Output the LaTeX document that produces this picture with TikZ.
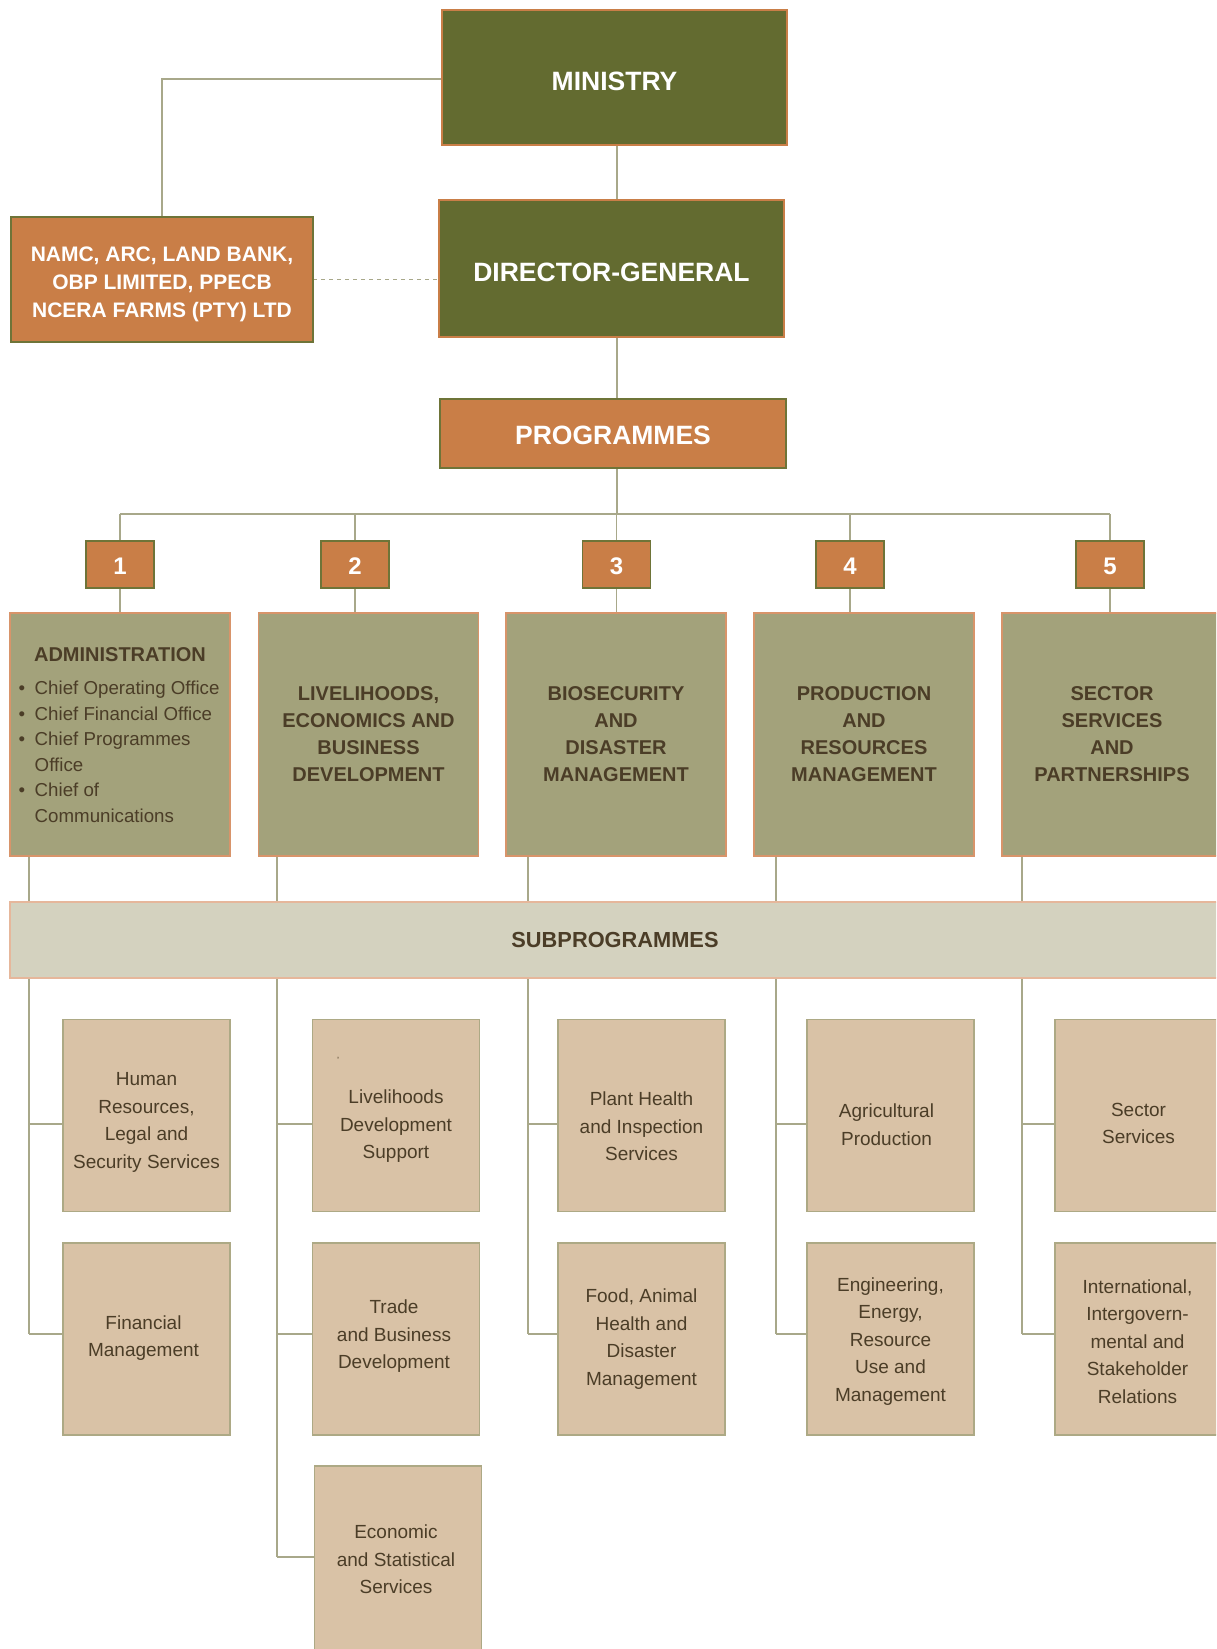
\documentclass[tikz,border=0pt]{standalone}
\usepackage{fontspec}
\setmainfont{Liberation Sans}
\usetikzlibrary{backgrounds}
\definecolor{olv}{HTML}{636B30}
\definecolor{olvb}{HTML}{6E7438}
\definecolor{org}{HTML}{C97E47}
\definecolor{pfill}{HTML}{A3A27B}
\definecolor{pbord}{HTML}{D8946A}
\definecolor{barfill}{HTML}{D4D2BF}
\definecolor{barbord}{HTML}{E6B79B}
\definecolor{sfill}{HTML}{D9C2A6}
\definecolor{sbord}{HTML}{ADA985}
\definecolor{lin}{HTML}{A8A88A}
\definecolor{tbrown}{HTML}{4B3D27}
\begin{document}
\begin{tikzpicture}[x=1pt,y=-1pt,
  box/.style={draw, line width=1.5pt, inner sep=0pt, outer sep=0pt, align=center},
  topbox/.style={box, fill=olv, draw=org, minimum width=345pt},
  bigtxt/.style={inner sep=0pt, text=white, font=\bfseries\fontsize{26.5}{32}\selectfont},
  orgbox/.style={box, fill=org, draw=olvb, text=white},
  numbox/.style={orgbox, minimum width=68pt, minimum height=47pt},
  numtxt/.style={inner sep=0pt, text=white, font=\bfseries\fontsize{24}{28}\selectfont},
  progbox/.style={box, fill=pfill, draw=pbord, text=tbrown, minimum width=220pt, minimum height=243pt,
    font=\bfseries\fontsize{20}{27}\selectfont},
  subbox/.style={box, fill=sfill, draw=sbord, minimum width=167pt, minimum height=192pt},
  subtxt/.style={inner sep=0pt, align=center, text=tbrown, font=\fontsize{19}{27.5}\selectfont},
  conn/.style={draw=lin, line width=1.3pt}
]
\useasboundingbox (0,0) rectangle (1216,1649);
\clip (0,0) rectangle (1216,1649);

% top
\node[topbox, minimum height=135pt] (ministry) at (614.5,77.5) {};
\node[bigtxt] (ministryt) at ([yshift=-4pt]ministry.center) {MINISTRY};
\node[topbox, minimum height=137pt] (dg) at (611.5,268.5) {};
\node[bigtxt] (dgt) at ([yshift=-3.5pt]dg.center) {DIRECTOR-GENERAL};
\node[orgbox, minimum width=302pt, minimum height=125pt] (namc) at (162,279.5) {};
\node[inner sep=0pt, align=center, text=white, font=\bfseries\fontsize{21}{28}\selectfont] (namct)
  at ([yshift=-5pt]namc.center) {NAMC, ARC, LAND BANK,\\OBP LIMITED, PPECB\\NCERA FARMS (PTY) LTD};
\node[orgbox, minimum width=346pt, minimum height=69pt] (prog) at (613,433.5) {};
\node[bigtxt] (progt) at ([yshift=-2pt]prog.center) {PROGRAMMES};

% numbers
\node[numbox] (n1) at (120,564.5) {};
\node[numbox] (n2) at (355,564.5) {};
\node[numbox] (n3) at (616.5,564.5) {};
\node[numbox] (n4) at (850,564.5) {};
\node[numbox] (n5) at (1110,564.5) {};
\foreach \k in {1,...,5}{
  \node[numtxt] (nt\k) at ([yshift=-2pt]n\k.center) {\k};
}

% programme boxes
\node[progbox] (p1) at (120,734.5) {};
\node[inner sep=0pt, text=tbrown, font=\bfseries\fontsize{20}{27}\selectfont] (adm) at (120,655) {ADMINISTRATION};
\node[inner sep=0pt, anchor=base west, text=tbrown, font=\fontsize{18.7}{25.5}\selectfont] (admlist) at (18.5,694.5)
  {\begin{tabular}[t]{@{}l@{\hspace{9.5pt}}l@{}}
   \textbullet & Chief Operating Office\\
   \textbullet & Chief Financial Office\\
   \textbullet & Chief Programmes\\
               & Office\\
   \textbullet & Chief of\\
               & Communications
   \end{tabular}};
\node[progbox] (p2) at (368.5,734.5) {LIVELIHOODS,\\ECONOMICS AND\\BUSINESS\\DEVELOPMENT};
\node[progbox] (p3) at (616,734.5) {BIOSECURITY\\AND\\DISASTER\\MANAGEMENT};
\node[progbox] (p4) at (864,734.5) {PRODUCTION\\AND\\RESOURCES\\MANAGEMENT};
\node[progbox] (p5) at (1112,734.5) {SECTOR\\SERVICES\\AND\\PARTNERSHIPS};

% subprogrammes bar
\node[box, fill=barfill, draw=barbord, minimum width=1220pt, minimum height=76pt, text=tbrown,
  font=\bfseries\fontsize{21.8}{26}\selectfont] (bar) at (620,940) {\hspace*{-10pt}SUBPROGRAMMES};

% sub boxes
\node[subbox] (s11) at (146.5,1115.5) {};
\node[subbox] (s21) at (146.5,1339) {};
\node[subbox] (s12) at (396,1115.5) {};
\node[subbox] (s22) at (396,1339) {};
\node[subbox] (s32) at (398,1562) {};
\node[subbox] (s13) at (641.5,1115.5) {};
\node[subbox] (s23) at (641.5,1339) {};
\node[subbox] (s14) at (890.5,1115.5) {};
\node[subbox] (s24) at (890.5,1339) {};
\node[subbox] (s15) at (1138.5,1115.5) {};
\node[subbox] (s25) at (1138.5,1339) {};

\node[subtxt] (t11) at ([yshift=-7pt]s11.center) {Human\\Resources,\\Legal and\\Security Services};
\node[subtxt] (t21) at ([xshift=-3pt,yshift=1pt]s21.center) {Financial\\Management};
\node[subtxt] (t12) at ([yshift=-11pt]s12.center) {Livelihoods\\Development\\Support};
\node[inner sep=0pt, text=tbrown, font=\fontsize{9}{9}\selectfont] (tick) at (338,1060) {'};
\node[subtxt] (t22) at ([xshift=-2pt,yshift=2.5pt]s22.center) {Trade\\and Business\\Development};
\node[subtxt] (t32) at ([xshift=-2pt,yshift=2.5pt]s32.center) {Economic\\and Statistical\\Services};
\node[subtxt] (t13) at ([yshift=-11pt]s13.center) {Plant Health\\and Inspection\\Services};
\node[subtxt] (t23) at (s23.center) {Food, Animal\\Health and\\Disaster\\Management};
\node[subtxt] (t14) at ([xshift=-4pt,yshift=-9pt]s14.center) {Agricultural\\Production};
\node[subtxt] (t15) at ([yshift=-8pt]s15.center) {Sector\\Services};
\node[subtxt] (t24) at ([yshift=-2.5pt]s24.center) {Engineering,\\Energy,\\Resource\\Use and\\Management};
\node[subtxt] (t25) at ([xshift=-1pt,yshift=-2.5pt]s25.center) {International,\\Intergovern-\\mental and\\Stakeholder\\Relations};

% coordinates
\coordinate (sp) at (617,0);
\coordinate (hb) at (0,514);
\coordinate (r1) at (0,1124);
\coordinate (r2) at (0,1334);
\coordinate (r3) at (0,1557);
\coordinate (v1) at (29,0);
\coordinate (v2) at (277,0);
\coordinate (v3) at (528,0);
\coordinate (v4) at (776,0);
\coordinate (v5) at (1022,0);

\begin{scope}[on background layer]
  \fill[white] (0,0) rectangle (1216,1649);
  \draw[conn] ([yshift=-1.5pt]ministry.west) -| (namc.north);
  \draw[conn, dash pattern=on 4pt off 4pt] (namc.east) -- (namc.east -| dg.west);
  \draw[conn] (sp |- ministry.south) -- (sp |- dg.north);
  \draw[conn] (sp |- dg.south) -- (sp |- prog.north);
  \draw[conn] (sp |- prog.south) -- (sp |- hb);
  \draw[conn] (n1.north |- hb) -- (n5.north |- hb);
  \foreach \k in {1,...,5}{
    \draw[conn] (n\k.north |- hb) -- (n\k.north);
    \draw[conn] (n\k.south) -- (n\k.south |- p\k.north);
  }
  % column spines
  \draw[conn] (v1 |- p1.south) -- (v1 |- r2);
  \draw[conn] (v1 |- r1) -- (s11.west |- r1);
  \draw[conn] (v1 |- r2) -- (s21.west |- r2);
  \draw[conn] (v2 |- p2.south) -- (v2 |- r3);
  \draw[conn] (v2 |- r1) -- (s12.west |- r1);
  \draw[conn] (v2 |- r2) -- (s22.west |- r2);
  \draw[conn] (v2 |- r3) -- (s32.west |- r3);
  \draw[conn] (v3 |- p3.south) -- (v3 |- r2);
  \draw[conn] (v3 |- r1) -- (s13.west |- r1);
  \draw[conn] (v3 |- r2) -- (s23.west |- r2);
  \draw[conn] (v4 |- p4.south) -- (v4 |- r2);
  \draw[conn] (v4 |- r1) -- (s14.west |- r1);
  \draw[conn] (v4 |- r2) -- (s24.west |- r2);
  \draw[conn] (v5 |- p5.south) -- (v5 |- r2);
  \draw[conn] (v5 |- r1) -- (s15.west |- r1);
  \draw[conn] (v5 |- r2) -- (s25.west |- r2);
\end{scope}
\end{tikzpicture}
\end{document}
